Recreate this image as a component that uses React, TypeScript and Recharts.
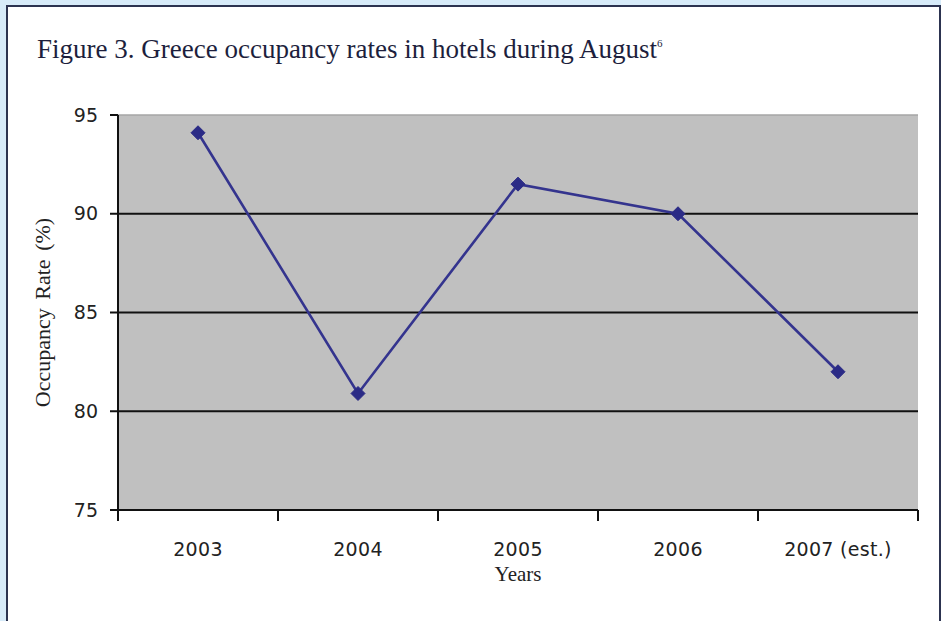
import React from 'react'
import { LineChart, Line, XAxis, YAxis, CartesianGrid, ReferenceLine } from 'recharts'

// August occupancy by year
const years = ['2003', '2004', '2005', '2006', '2007 (est.)']
const occupancy = [94.1, 80.9, 91.5, 90.0, 82.0]
const yTicks = [75, 80, 85, 90, 95]
const gridValues = [80, 85, 90]

const data = years.map((year, i) => ({ year, rate: occupancy[i] }))

const W = 941
const H = 621
const HALF_BAND = 80 // half of one category slot, ticks sit on slot edges

const tickFont = '"DejaVu Sans", sans-serif'
const serif = '"Liberation Serif", "Times New Roman", serif'

// category label in the middle of its slot, tick marks on the slot edges
const YearTick = (props: any) => {
  const { x, y, payload, index } = props
  const last = index === years.length - 1
  return (
    <g>
      <line x1={x - HALF_BAND} y1={y - 8} x2={x - HALF_BAND} y2={y + 3} stroke="#111" strokeWidth={2} />
      {last && <line x1={x + HALF_BAND} y1={y - 8} x2={x + HALF_BAND} y2={y + 3} stroke="#111" strokeWidth={2} />}
      <text x={x} y={y + 38} textAnchor="middle" fontFamily={tickFont} fontSize={19} fill="#222" letterSpacing={0.3}>
        {payload.value}
      </text>
    </g>
  )
}

const Diamond = (props: any) => {
  const { cx, cy } = props
  if (cx == null || cy == null) return null
  const r = 7
  return (
    <path
      d={`M${cx},${cy - r} L${cx + r},${cy} L${cx},${cy + r} L${cx - r},${cy} Z`}
      fill="#2b2b86"
      stroke="#2b2b86"
      strokeWidth={1}
      strokeLinejoin="round"
    />
  )
}

export default function App() {
  return (
    <div style={{ position: 'fixed', left: 0, top: 0, width: W, height: H, background: '#d7ebf9', overflow: 'hidden' }}>
      {/* white panel with navy frame */}
      <div
        style={{
          position: 'absolute',
          left: 6,
          top: 5,
          width: W - 6 - 2 - 2,
          height: H + 20,
          background: '#ffffff',
          border: '2px solid #2c3350',
        }}
      />
      <div
        style={{
          position: 'absolute',
          left: 37,
          top: 36,
          fontFamily: serif,
          fontSize: 27,
          lineHeight: 1,
          color: '#1d1f3d',
          whiteSpace: 'nowrap',
        }}
      >
        Figure 3. Greece occupancy rates in hotels during August
        <sup style={{ fontSize: 11, verticalAlign: 'top', position: 'relative', top: 2 }}>6</sup>
      </div>
      <div style={{ position: 'absolute', left: 0, top: 0 }}>
        <LineChart width={W} height={H} data={data} margin={{ top: 115, right: 23, bottom: 0, left: 0 }}>
          <CartesianGrid fill="#c0c0c0" horizontal={false} vertical={false} />
          {gridValues.map(v => (
            <ReferenceLine key={v} y={v} stroke="#111" strokeWidth={2} />
          ))}
          <ReferenceLine y={95} stroke="#a6a6a6" strokeWidth={1.5} />
          <XAxis
            dataKey="year"
            height={111}
            padding={{ left: HALF_BAND, right: HALF_BAND }}
            axisLine={{ stroke: '#111', strokeWidth: 2 }}
            tickLine={false}
            interval={0}
            tick={<YearTick />}
            label={{ value: 'Years', position: 'insideTop', offset: 56, fontFamily: serif, fontSize: 21, fill: '#222' }}
          />
          <YAxis
            domain={[75, 95]}
            ticks={yTicks}
            width={118}
            interval={0}
            axisLine={{ stroke: '#111', strokeWidth: 2 }}
            tickLine={{ stroke: '#111', strokeWidth: 2 }}
            tickSize={8}
            tickMargin={12}
            tick={{ fontFamily: tickFont, fontSize: 19, fill: '#222' }}
            label={{
              value: 'Occupancy Rate (%)',
              angle: -90,
              position: 'insideLeft',
              offset: 42,
              style: { textAnchor: 'middle', fontFamily: serif, fontSize: 22, fill: '#222', wordSpacing: 3 },
            }}
          />
          <YAxis
            yAxisId="frame"
            orientation="right"
            width={0}
            domain={[75, 95]}
            tick={false}
            tickLine={false}
            axisLine={{ stroke: '#8c8c8c', strokeWidth: 2 }}
          />
          <Line
            type="linear"
            dataKey="rate"
            stroke="#34348e"
            strokeWidth={2.6}
            dot={<Diamond />}
            activeDot={false}
            isAnimationActive={false}
          />
        </LineChart>
      </div>
    </div>
  )
}
